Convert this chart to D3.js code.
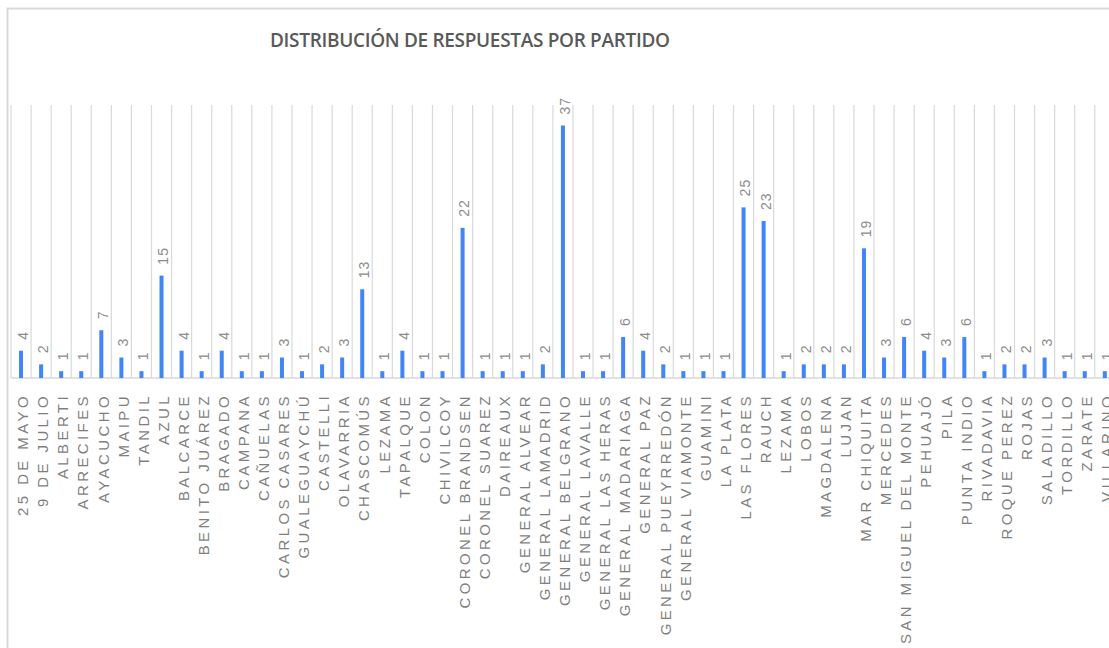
<!DOCTYPE html>
<meta charset="utf-8">
<style>
body { margin: 0; background: #fff; }
text { font-family: "Liberation Sans", Arial, sans-serif; }
.title { font-family: "Open Sans", sans-serif; font-weight: 600; font-size: 19px; fill: #595959; }
.cat { font-size: 15px; fill: #7f7f7f; letter-spacing: 3.4px; }
.val { font-size: 14px; fill: #8c8c8c; letter-spacing: 1px; }
</style>
<svg width="1109" height="648"></svg>
<script src="https://d3js.org/d3.v7.min.js"></script>
<script>

var partidos = ["25 DE MAYO", "9 DE JULIO", "ALBERTI", "ARRECIFES", "AYACUCHO", "MAIPU", "TANDIL",
  "AZUL", "BALCARCE", "BENITO JUÁREZ", "BRAGADO", "CAMPANA", "CAÑUELAS", "CARLOS CASARES",
  "GUALEGUAYCHÚ", "CASTELLI", "OLAVARRIA", "CHASCOMÚS", "LEZAMA", "TAPALQUE", "COLON",
  "CHIVILCOY", "CORONEL BRANDSEN", "CORONEL SUAREZ", "DAIREAUX", "GENERAL ALVEAR",
  "GENERAL LAMADRID", "GENERAL BELGRANO", "GENERAL LAVALLE", "GENERAL LAS HERAS",
  "GENERAL MADARIAGA", "GENERAL PAZ", "GENERAL PUEYRREDÓN", "GENERAL VIAMONTE", "GUAMINI",
  "LA PLATA", "LAS FLORES", "RAUCH", "LEZAMA", "LOBOS", "MAGDALENA", "LUJAN", "MAR CHIQUITA",
  "MERCEDES", "SAN MIGUEL DEL MONTE", "PEHUAJÓ", "PILA", "PUNTA INDIO", "RIVADAVIA",
  "ROQUE PEREZ", "ROJAS", "SALADILLO", "TORDILLO", "ZARATE", "VILLARINO"];

var respuestas = [4, 2, 1, 1, 7, 3, 1, 15, 4, 1, 4, 1, 1, 3, 1, 2, 3, 13, 1, 4, 1, 1, 22, 1, 1, 1,
  2, 37, 1, 1, 6, 4, 2, 1, 1, 1, 25, 23, 1, 2, 2, 2, 19, 3, 6, 4, 3, 6, 1, 2, 2, 3, 1, 1, 1];

var yMax = 40;

var svg = d3.select("svg");

// outer frame of the chart (runs off the right and bottom edges)
svg.append("path")
    .attr("d", "M7.5,648 V8.5 H1109")
    .attr("fill", "none")
    .attr("stroke", "#d9d9d9")
    .attr("stroke-width", 2);

svg.append("text")
    .attr("class", "title")
    .attr("x", 470)
    .attr("y", 47)
    .attr("text-anchor", "middle")
    .attr("textLength", 400)
    .attr("lengthAdjust", "spacing")
    .text("DISTRIBUCIÓN DE RESPUESTAS POR PARTIDO");

var x = d3.scaleBand()
    .domain(d3.range(partidos.length))
    .range([11, 11 + 20.07 * partidos.length])
    .paddingInner(0.8)
    .paddingOuter(0.4);

var y = d3.scaleLinear()
    .domain([0, yMax])
    .range([378, 105]);

var step = x.step();

// vertical grid at category boundaries
var g = svg.append("g");
g.selectAll("line.grid")
  .data(d3.range(partidos.length + 1))
  .enter().append("line")
    .attr("class", "grid")
    .attr("x1", function(i) { return 11 + i * step; })
    .attr("x2", function(i) { return 11 + i * step; })
    .attr("y1", y(yMax))
    .attr("y2", y(0))
    .attr("stroke", "#d9d9d9")
    .attr("stroke-width", 1.2);

g.append("line")
    .attr("x1", 11)
    .attr("x2", 1109)
    .attr("y1", y(0))
    .attr("y2", y(0))
    .attr("stroke", "#d9d9d9")
    .attr("stroke-width", 1.5);

g.selectAll("rect.bar")
  .data(respuestas)
  .enter().append("rect")
    .attr("class", "bar")
    .attr("x", function(d, i) { return x(i); })
    .attr("width", x.bandwidth())
    .attr("y", function(d) { return y(d); })
    .attr("height", function(d) { return y(0) - y(d); })
    .attr("fill", "#4285f4");

g.selectAll("text.val")
  .data(respuestas)
  .enter().append("text")
    .attr("class", "val")
    .attr("transform", function(d, i) {
      return "translate(" + (x(i) + x.bandwidth() / 2 + 2) + "," + (y(d) - 11) + ") rotate(-90)";
    })
    .attr("dy", "0.35em")
    .text(function(d) { return d; });

g.selectAll("text.cat")
  .data(partidos)
  .enter().append("text")
    .attr("class", "cat")
    .attr("transform", function(d, i) {
      return "translate(" + (x(i) + x.bandwidth() / 2 + 2) + "," + 393 + ") rotate(-90)";
    })
    .attr("dy", "0.35em")
    .attr("text-anchor", "end")
    .text(function(d) { return d; });

</script>
